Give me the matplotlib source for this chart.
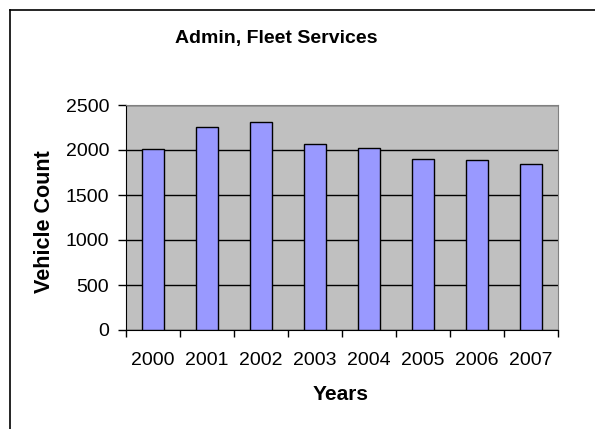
import matplotlib.pyplot as plt

plt.rcParams['font.family'] = ['Liberation Sans', 'DejaVu Sans']

# 数据
years = ['2000', '2001', '2002', '2003', '2004', '2005', '2006', '2007']
counts = [2010, 2260, 2315, 2065, 2025, 1905, 1885, 1840]
yticks = [0, 500, 1000, 1500, 2000, 2500]

fig = plt.figure(figsize=(5.95, 4.29), dpi=100)
ax = fig.add_axes([126 / 595, 1 - 330 / 429, 432 / 595, 225 / 429])

# 图表外框（左、上）
fig.add_artist(plt.Line2D([10 / 595, 10 / 595], [0, 1 - 10 / 429], color='black', lw=1.2))
fig.add_artist(plt.Line2D([10 / 595, 1], [1 - 10 / 429, 1 - 10 / 429], color='black', lw=1.2))

ax.set_facecolor('#C0C0C0')
x = range(len(years))
ax.bar(x, counts, width=0.42, color='#9999FF', edgecolor='black', linewidth=1, zorder=3)

ax.set_xlim(-0.5, len(years) - 0.5)
ax.set_ylim(0, 2500)
ax.set_yticks(yticks)
ax.yaxis.grid(True, color='black', linewidth=1, zorder=1)
ax.set_axisbelow(True)

# 类别刻度放在分界处
ax.set_xticks([i - 0.5 for i in range(len(years) + 1)])
ax.set_xticklabels([])
ax.set_xticks(list(x), minor=True)
ax.set_xticklabels(years, minor=True, fontsize=14)
ax.tick_params(axis='x', which='minor', length=0, pad=16)
ax.tick_params(axis='x', which='major', length=5, width=1, direction='out')
ax.tick_params(axis='y', length=6, width=1, direction='out', labelsize=14, pad=6)

for s in ['top', 'right']:
    ax.spines[s].set_color('#808080')
for s in ['left', 'bottom']:
    ax.spines[s].set_color('black')

fig.text(276 / 595, 1 - 39 / 429, 'Admin, Fleet Services', ha='center', va='center',
         fontsize=14, fontweight='bold')
fig.text(341 / 595, 1 - 395 / 429, 'Years', ha='center', va='center',
         fontsize=15, fontweight='bold')
fig.text(44 / 595, 1 - 222 / 429, 'Vehicle Count', ha='center', va='center',
         rotation=90, fontsize=15.5, fontweight='bold')

plt.savefig('out.png', dpi=100)
plt.close()
